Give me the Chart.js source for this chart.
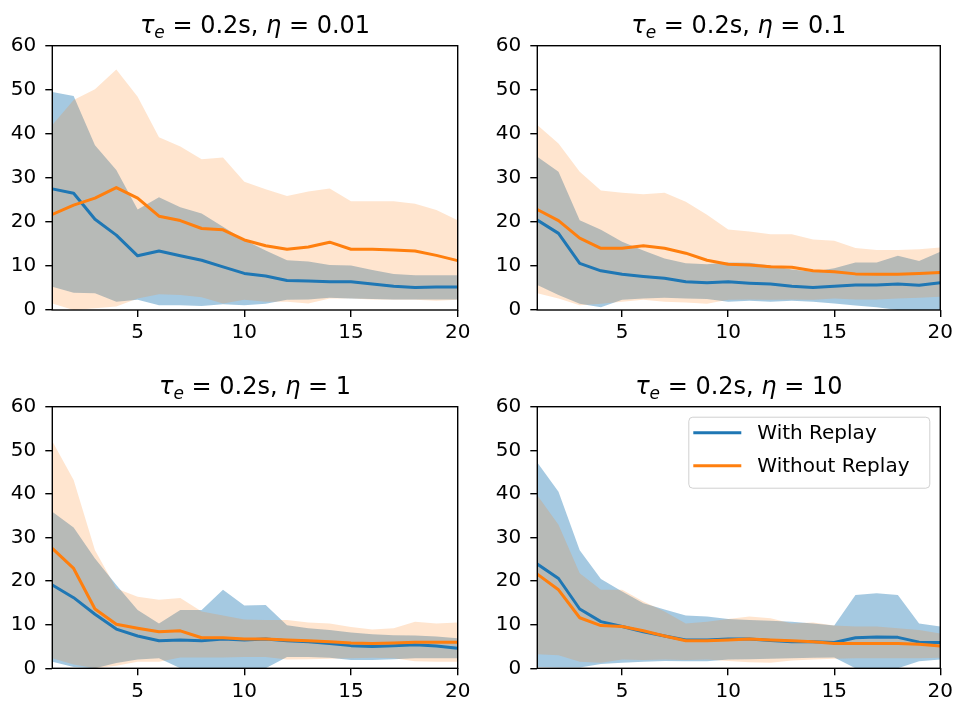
<!DOCTYPE html>
<html><head><meta charset="utf-8">
<script src="https://cdn.jsdelivr.net/npm/chart.js@4.4.1/dist/chart.umd.min.js"></script>
<style>
html,body{margin:0;padding:0;background:#fff;width:957px;height:704px;overflow:hidden;}
.p{position:absolute;}
canvas{display:block;}
</style></head><body>
<div class="p" style="left:0;top:0;width:478px;height:352px"><canvas id="c1" width="478" height="352"></canvas></div>
<div class="p" style="left:478px;top:0;width:479px;height:352px"><canvas id="c2" width="479" height="352"></canvas></div>
<div class="p" style="left:0;top:352px;width:478px;height:352px"><canvas id="c3" width="478" height="352"></canvas></div>
<div class="p" style="left:478px;top:352px;width:479px;height:352px"><canvas id="c4" width="479" height="352"></canvas></div>
<script>
// ---- data ----
const episodes = [1,2,3,4,5,6,7,8,9,10,11,12,13,14,15,16,17,18,19,20];
const seriesNames = ['With Replay','Without Replay'];
const tauLabel = '0.2s';
const etaLabels = ['0.01','0.1','1','10'];
const xTickValues = [5,10,15,20];
const yTickValues = [0,10,20,30,40,50,60];

// eta = 0.01
const withMean1    = [27.5,26.5,20.6,17.0,12.3,13.4,12.3,11.3,9.8,8.3,7.7,6.7,6.6,6.4,6.4,5.9,5.4,5.1,5.2,5.2];
const withUpper1   = [49.5,48.6,37.4,31.8,22.8,25.6,23.3,21.9,18.9,15.9,13.5,11.3,11.0,10.2,10.1,9.1,8.2,7.9,7.9,7.9];
const withLower1   = [5.3,3.9,3.8,1.9,2.3,1.1,1.1,0.9,1.3,1.1,1.4,2.3,2.4,2.8,2.6,2.5,2.4,2.4,2.4,2.4];
const withoutMean1  = [21.7,23.8,25.4,27.8,25.4,21.3,20.3,18.5,18.2,15.9,14.6,13.8,14.3,15.4,13.8,13.8,13.6,13.4,12.4,11.2];
const withoutUpper1 = [42.0,47.7,50.1,54.6,48.4,39.2,37.1,34.2,34.6,29.1,27.4,25.9,26.9,27.6,24.7,24.7,24.7,24.1,22.7,20.4];
const withoutLower1 = [1.5,0.0,0.4,0.8,2.6,3.6,3.4,2.9,1.5,2.3,1.9,1.9,1.5,2.6,2.6,2.4,2.3,2.3,2.1,2.3];

// eta = 0.1
const withMean2    = [20.4,17.4,10.6,8.9,8.1,7.6,7.2,6.4,6.2,6.4,6.1,5.9,5.4,5.1,5.4,5.7,5.7,5.9,5.6,6.2];
const withUpper2   = [34.8,31.4,20.4,18.2,15.5,13.5,11.7,10.6,10.4,10.8,10.7,10.1,9.2,8.7,9.5,10.8,10.8,12.3,11.1,13.2];
const withLower2   = [5.7,3.4,1.4,0.6,2.3,2.6,2.8,2.6,2.5,1.9,2.1,1.9,2.1,1.9,1.5,1.0,0.6,0,0,0];
const withoutMean2  = [22.8,20.3,16.3,14.0,14.0,14.6,14.0,12.9,11.3,10.4,10.2,9.8,9.7,8.9,8.7,8.2,8.1,8.1,8.3,8.5];
const withoutUpper2 = [42.0,37.8,31.4,27.1,26.6,26.3,26.6,24.6,21.6,18.3,17.8,17.2,17.2,16.0,15.7,14.1,13.6,13.6,13.8,14.2];
const withoutLower2 = [3.8,2.6,1.1,1.4,1.9,2.3,1.9,1.7,1.4,2.3,2.4,2.3,2.4,2.3,2.6,2.4,2.4,2.6,2.8,3.0];

// eta = 1
const withMean3    = [19.1,16.2,12.4,9.0,7.4,6.3,6.5,6.3,6.7,6.5,6.7,6.3,6.1,5.7,5.2,5.0,5.2,5.4,5.1,4.6];
const withUpper3   = [35.9,32.3,25.2,19.1,13.4,10.3,13.4,13.4,18.0,14.4,14.5,9.9,9.2,8.8,8.2,7.8,7.6,7.5,7.3,6.9];
const withLower3   = [1.5,0.3,0,1.2,2.0,2.3,0,0,0,0,0,2.6,2.6,2.4,1.9,1.9,2.1,2.3,2.3,2.3];
const withoutMean3  = [27.5,22.9,13.6,10.1,9.2,8.4,8.6,7.0,7.0,6.7,6.7,6.5,6.3,6.1,5.8,5.7,5.8,6.0,6.0,6.0];
const withoutUpper3 = [52.1,43.2,27.1,18.3,16.4,15.7,16.1,13.0,12.1,11.2,11.1,11.1,10.5,10.3,9.5,8.9,9.2,10.7,10.3,10.5];
const withoutLower3 = [2.3,0.9,0,0.6,1.5,1.5,2.5,2.5,2.5,2.6,2.6,2.0,2.1,2.2,2.3,2.4,2.3,1.6,1.5,1.5];

// eta = 10
const withMean4    = [23.9,20.6,13.6,10.7,9.6,8.4,7.4,6.5,6.5,6.7,6.7,6.4,6.1,6.1,5.9,7.0,7.2,7.1,6.0,5.9];
const withUpper4   = [47.2,40.5,27.1,20.5,17.6,14.9,13.5,12.1,11.9,11.3,11.1,10.9,10.7,10.3,9.8,16.8,17.2,16.8,10.3,9.6];
const withLower4   = [0.3,0.2,0.2,1.0,1.3,1.5,1.7,1.6,1.6,2.0,2.1,2.2,2.3,2.4,2.5,0,0,0,1.6,2.0];
const withoutMean4  = [21.6,18.0,11.6,9.8,9.6,8.6,7.4,6.3,6.3,6.5,6.7,6.5,6.3,6.1,5.7,5.7,5.7,5.7,5.5,5.1];
const withoutUpper4 = [39.7,32.9,21.8,18.0,18.0,15.3,13.0,10.3,10.7,11.3,11.9,11.5,10.3,10.5,9.8,9.6,9.6,9.2,8.8,8.0];
const withoutLower4 = [3.2,3.0,1.5,1.3,2.0,1.9,2.0,1.9,2.0,1.7,1.4,1.3,1.8,2.0,2.2,2.3,2.3,2.3,2.3,2.4];

// ---- styling ----
const BLUE = '#1f77b4', ORANGE = '#ff7f0e';
const BLUE_FILL = 'rgba(31,119,180,0.4)', ORANGE_FILL = 'rgba(255,127,14,0.2)';
const FONT = "'DejaVu Sans', sans-serif";

function pts(arr){ return episodes.map((x,i)=>({x:x, y:arr[i]})); }

const framePlugin = {
  id:'frame',
  afterDatasetsDraw(chart){
    const a = chart.chartArea, ctx = chart.ctx;
    ctx.save();
    ctx.strokeStyle = '#000'; ctx.lineWidth = 1.4;
    ctx.strokeRect(a.left, a.top, a.right-a.left, a.bottom-a.top);
    ctx.restore();
  }
};

const titlePlugin = {
  id:'mathTitle',
  afterDraw(chart, args, opts){
    const a = chart.chartArea, ctx = chart.ctx;
    const size = 24;
    const parts = [
      {t:'τ', f:'italic '+size+'px '+FONT, dy:0},
      {t:'e', f:'italic '+Math.round(size*0.7)+'px '+FONT, dy:5},
      {t:' = '+tauLabel+', ', f:size+'px '+FONT, dy:0},
      {t:'η', f:'italic '+size+'px '+FONT, dy:0},
      {t:' = '+opts.eta, f:size+'px '+FONT, dy:0}
    ];
    ctx.save();
    ctx.fillStyle = '#000'; ctx.textBaseline = 'alphabetic'; ctx.textAlign = 'left';
    let total = 0;
    parts.forEach(p=>{ ctx.font = p.f; p.w = ctx.measureText(p.t).width; total += p.w; });
    let x = (a.left + a.right)/2 - total/2;
    const y = a.top - 13;
    parts.forEach(p=>{ ctx.font = p.f; ctx.fillText(p.t, x, y + p.dy); x += p.w; });
    ctx.restore();
  }
};

const legendPlugin = {
  id:'panelLegend',
  afterDraw(chart, args, opts){
    if(!opts.show) return;
    const a = chart.chartArea, ctx = chart.ctx;
    const w = 241, h = 71;
    const x = a.right - 11 - w, y = a.top + 10;
    ctx.save();
    ctx.beginPath();
    ctx.roundRect(x+0.5, y+0.5, w, h, 4);
    ctx.fillStyle = 'rgba(255,255,255,0.8)'; ctx.fill();
    ctx.strokeStyle = '#d0d0d0'; ctx.lineWidth = 1; ctx.stroke();
    const cols = [BLUE, ORANGE];
    seriesNames.forEach((name,i)=>{
      const yy = y + 16 + i*33;
      ctx.beginPath(); ctx.moveTo(x+5, yy); ctx.lineTo(x+53, yy);
      ctx.strokeStyle = cols[i]; ctx.lineWidth = 3; ctx.stroke();
      ctx.fillStyle = '#000'; ctx.font = '20px '+FONT; ctx.textBaseline = 'middle';
      ctx.fillText(name, x+69, yy+1);
    });
    ctx.restore();
  }
};

function lineDs(label, arr, color){
  return {label, data:pts(arr), borderColor:color, borderWidth:3, pointRadius:0, fill:false,
          tension:0, borderJoinStyle:'round', borderCapStyle:'butt'};
}
function bandDs(arr, fillColor, fill){
  return {data:pts(arr), borderColor:'rgba(0,0,0,0)', borderWidth:0, pointRadius:0,
          backgroundColor:fillColor, fill:fill, tension:0};
}

function makeChart(id, eta, d, pad, showLegend){
  const axisCommon = {
    grid:{drawOnChartArea:false, drawTicks:true, tickLength:7, color:'#000', lineWidth:1.4},
    border:{display:false},
  };
  return new Chart(document.getElementById(id), {
    type:'line',
    data:{datasets:[
      lineDs(seriesNames[1], d.om, ORANGE),
      lineDs(seriesNames[0], d.bm, BLUE),
      bandDs(d.ou, ORANGE_FILL, '+1'),
      bandDs(d.ol, 'rgba(0,0,0,0)', false),
      bandDs(d.bu, BLUE_FILL, '+1'),
      bandDs(d.bl, 'rgba(0,0,0,0)', false)
    ]},
    options:{
      responsive:false, animation:false, events:[],
      layout:{padding:pad},
      plugins:{legend:{display:false}, tooltip:{enabled:false}, title:{display:false},
               mathTitle:{eta:eta}, panelLegend:{show:showLegend}},
      scales:{
        x:Object.assign({type:'linear', min:1, max:20,
          afterBuildTicks:s=>{ s.ticks = xTickValues.map(v=>({value:v})); },
          afterFit:s=>{ s.height = 30; s.paddingLeft = 0; s.paddingRight = 0; },
          ticks:{font:{family:FONT, size:20}, color:'#000', padding:4, maxRotation:0, autoSkip:false}
        }, axisCommon),
        y:Object.assign({type:'linear', min:0, max:60,
          afterBuildTicks:s=>{ s.ticks = yTickValues.map(v=>({value:v})); },
          afterFit:s=>{ s.width = 50; s.paddingTop = 0; s.paddingBottom = 0; },
          ticks:{font:{family:FONT, size:20}, color:'#000', padding:9, autoSkip:false}
        }, axisCommon)
      }
    },
    plugins:[framePlugin, titlePlugin, legendPlugin]
  });
}

makeChart('c1', etaLabels[0], {bm:withMean1, bu:withUpper1, bl:withLower1, om:withoutMean1, ou:withoutUpper1, ol:withoutLower1},
  {left:2.3, right:20.3, top:45.7, bottom:12}, false);
makeChart('c2', etaLabels[1], {bm:withMean2, bu:withUpper2, bl:withLower2, om:withoutMean2, ou:withoutUpper2, ol:withoutLower2},
  {left:9.3, right:16.7, top:45.7, bottom:12}, false);
makeChart('c3', etaLabels[2], {bm:withMean3, bu:withUpper3, bl:withLower3, om:withoutMean3, ou:withoutUpper3, ol:withoutLower3},
  {left:2.3, right:20.3, top:54.7, bottom:5.7}, false);
makeChart('c4', etaLabels[3], {bm:withMean4, bu:withUpper4, bl:withLower4, om:withoutMean4, ou:withoutUpper4, ol:withoutLower4},
  {left:9.3, right:16.7, top:54.7, bottom:5.7}, true);
</script>
</body></html>
